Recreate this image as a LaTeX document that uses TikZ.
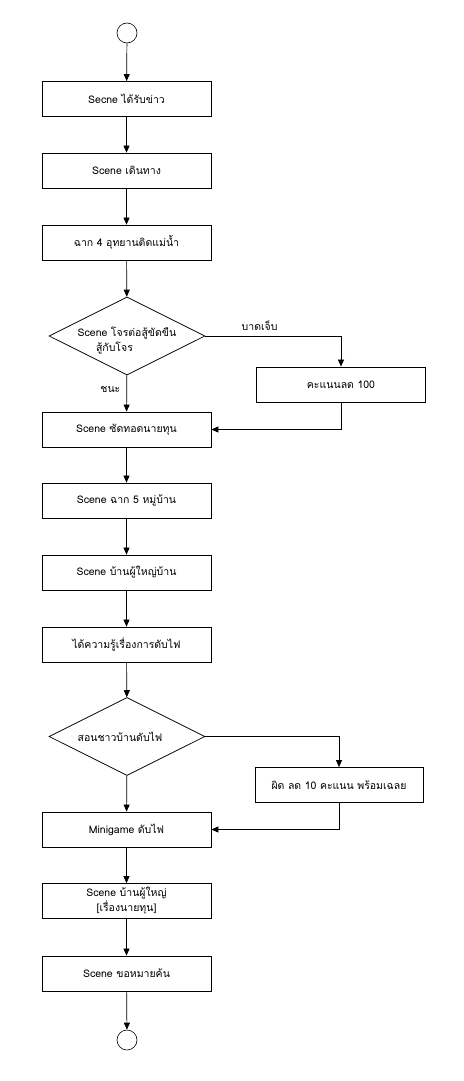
\documentclass[tikz,border=0pt]{standalone}
\usepackage{fontspec}
\setmainfont{Loma}[Script=Thai]
\usetikzlibrary{shapes.geometric,arrows.meta}
\tikzset{
  box/.style={draw, line width=0.75pt, minimum width=169pt, minimum height=35pt, inner sep=0pt, align=center, font=\fontsize{10.5}{15}\selectfont},
  dia/.style={draw, line width=0.75pt, diamond, minimum width=156pt, minimum height=78pt, inner sep=0pt},
  term/.style={draw, line width=0.6pt, circle, minimum size=20pt, inner sep=0pt},
  txt/.style={font=\fontsize{10.5}{15}\selectfont, align=center, inner sep=0pt},
  arr/.style={line width=0.7pt, -{Triangle[length=7pt,width=6pt]}}
}
\begin{document}
\begin{tikzpicture}[x=1pt,y=-1pt]
\useasboundingbox[fill=white] (0,0) rectangle (463,1081);
\node[term] (s) at (127,33) {};
\node[box] (b1) at (126.5,99) {Secne ได้รับข่าว};
\node[box] (b2) at (126.5,170.5) {Scene เดินทาง};
\node[box] (b3) at (126.5,242.5) {ฉาก 4 อุทยานติดแม่น้ำ};
\node[dia] (d1) at (127,336) {};
\node[txt] (d1t) at (127,341) {Scene โจรต่อสู้ขัดขืน\\สู้กับโจร\hspace*{25pt}};
\node[box] (p1) at (341,384.5) {คะแนนลด 100};
\node[box] (b4) at (126.5,429.5) {Scene ซัดทอดนายทุน};
\node[box] (b5) at (126.5,500.5) {Scene ฉาก 5 หมู่บ้าน};
\node[box] (b6) at (126.5,572.5) {Scene บ้านผู้ใหญ่บ้าน};
\node[box] (b7) at (126.5,644.5) {ได้ความรู้เรื่องการดับไฟ};
\node[dia] (d2) at (127,736.5) {};
\node[txt] (d2t) at (120,737) {สอนชาวบ้านดับไฟ};
\node[box, minimum width=168pt] (p2) at (339,785) {ผิด ลด 10 คะแนน พร้อมเฉลย};
\node[box] (b8) at (126.5,829.5) {Minigame ดับไฟ};
\node[box] (b9) at (126.5,901) {Scene บ้านผู้ใหญ่\\{[}เรื่องนายทุน{]}};
\node[box] (b10) at (126.5,973.5) {Scene ขอหมายค้น};
\node[term] (e) at (127,1040) {};
\draw[arr] (s) -- (b1);
\draw[arr] (b1) -- (b2);
\draw[arr] (b2) -- (b3);
\draw[arr] (b3) -- (d1);
\draw[arr] (d1) -- node[txt, pos=0.4, left=6pt] {ชนะ} (b4);
\draw[arr] (d1.east) -| node[txt, pos=0.2, above=5pt] {บาดเจ็บ} (p1.north);
\draw[arr] (p1.south) |- (b4.east);
\draw[arr] (b4) -- (b5);
\draw[arr] (b5) -- (b6);
\draw[arr] (b6) -- (b7);
\draw[arr] (b7) -- (d2);
\draw[arr] (d2) -- (b8);
\draw[arr] (d2.east) -| (p2.north);
\draw[arr] (p2.south) |- (b8.east);
\draw[arr] (b8) -- (b9);
\draw[arr] (b9) -- (b10);
\draw[arr] (b10) -- (e);
\end{tikzpicture}
\end{document}
